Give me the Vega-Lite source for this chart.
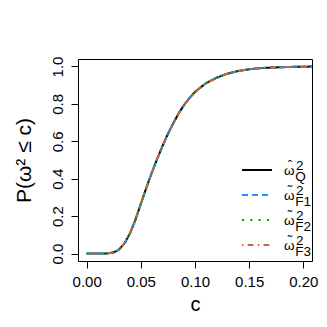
{
  "$schema": "https://vega.github.io/schema/vega-lite/v6.json",
  "width": 234,
  "height": 202,
  "autosize": {"type": "none"},
  "padding": {"left": 78, "top": 59, "right": 15, "bottom": 66},
  "background": "white",
  "config": {
    "font": "Liberation Sans",
    "view": {"stroke": "black", "strokeWidth": 1},
    "axis": {"grid": false, "domain": false, "tickColor": "black", "tickSize": 7, "tickWidth": 1, "labelColor": "black", "titleColor": "black", "labelFontSize": 15, "titleFontSize": 20, "titleFontWeight": "normal", "labelFont": "Liberation Sans", "titleFont": "Liberation Sans"}
  },
  "datasets": {
    "curve": [
      {"c": 0, "P": 0}, {"c": 0.01, "P": 0}, {"c": 0.015, "P": 0}, {"c": 0.02, "P": 0.001},
      {"c": 0.025, "P": 0.006}, {"c": 0.03, "P": 0.022}, {"c": 0.035, "P": 0.055}, {"c": 0.04, "P": 0.108},
      {"c": 0.045, "P": 0.18}, {"c": 0.05, "P": 0.265}, {"c": 0.055, "P": 0.35}, {"c": 0.06, "P": 0.43},
      {"c": 0.065, "P": 0.505}, {"c": 0.07, "P": 0.575}, {"c": 0.075, "P": 0.64}, {"c": 0.08, "P": 0.697},
      {"c": 0.085, "P": 0.75}, {"c": 0.09, "P": 0.795}, {"c": 0.095, "P": 0.832}, {"c": 0.1, "P": 0.864},
      {"c": 0.11, "P": 0.91}, {"c": 0.12, "P": 0.94}, {"c": 0.13, "P": 0.962}, {"c": 0.14, "P": 0.976},
      {"c": 0.15, "P": 0.985}, {"c": 0.16, "P": 0.991}, {"c": 0.17, "P": 0.994}, {"c": 0.18, "P": 0.996},
      {"c": 0.19, "P": 0.998}, {"c": 0.2, "P": 0.999}, {"c": 0.21, "P": 0.9995}
    ]
  },
  "data": {"name": "curve"},
  "transform": [
    {"fold": ["Q", "F1", "F2", "F3"], "as": ["s", "dummy"]}
  ],
  "mark": {"type": "line", "strokeWidth": 2, "clip": true},
  "encoding": {
    "x": {"field": "c", "type": "quantitative", "scale": {"domain": [-0.008, 0.208], "nice": false, "zero": false},
      "axis": {"values": [0, 0.05, 0.1, 0.15, 0.2], "format": ".2f", "title": "c", "labelPadding": 6, "titlePadding": 5}},
    "y": {"field": "P", "type": "quantitative", "scale": {"domain": [-0.04, 1.04], "nice": false, "zero": false},
      "axis": {"values": [0, 0.2, 0.4, 0.6, 0.8, 1], "format": ".1f", "labelAngle": -90, "title": "P(ω² ≤ c)", "titleFontSize": 21, "labelPadding": 6, "titlePadding": 16}},
    "color": {"field": "s", "type": "nominal", "scale": {"domain": ["Q", "F1", "F2", "F3"], "range": ["black", "#1E90FF", "#00A000", "#D2603A"]},
      "legend": {"orient": "none", "legendX": 168, "legendY": 100, "title": null, "symbolType": "M-1.5,0H1.5", "symbolSize": 400, "symbolStrokeWidth": 2, "labelFontSize": 13.5, "labelOffset": 16, "labelBaseline": "alphabetic", "rowPadding": 0, "padding": 0, "labelColor": "black",
        "labelExpr": "['\u200b\u00a0' + (datum.value == 'Q' ? '\u02c6' : '\u02dc') + '\u00a02', 'ω', '\u200b\u00a0\u00a0\u00a0' + datum.value]",
        "encode": {"labels": {"update": {"lineHeight": {"value": 5.5}, "dy": {"value": -0.5}}}}}},
    "strokeDash": {"field": "s", "type": "nominal", "scale": {"domain": ["Q", "F1", "F2", "F3"], "range": [[1, 0], [6, 4], [2, 6.3], [1.5, 4.3, 5.7, 4.3]]},
      "legend": {"orient": "none", "legendX": 168, "legendY": 100, "title": null, "symbolType": "M-1.5,0H1.5", "symbolSize": 400, "symbolStrokeWidth": 2, "labelFontSize": 13.5, "labelOffset": 16, "labelBaseline": "alphabetic", "rowPadding": 0, "padding": 0, "labelColor": "black",
        "labelExpr": "['\u200b\u00a0' + (datum.value == 'Q' ? '\u02c6' : '\u02dc') + '\u00a02', 'ω', '\u200b\u00a0\u00a0\u00a0' + datum.value]",
        "encode": {"labels": {"update": {"lineHeight": {"value": 5.5}, "dy": {"value": -0.5}}}}}}
  }
}
